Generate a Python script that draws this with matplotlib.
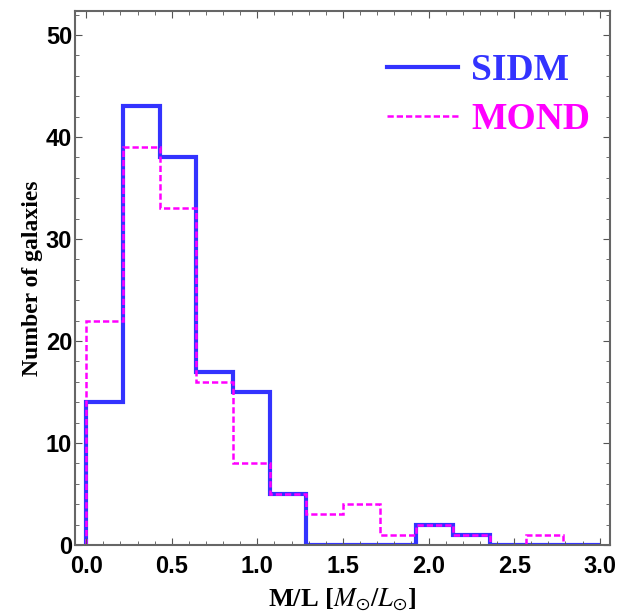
import numpy as np
import matplotlib
matplotlib.use("Agg")
from matplotlib import pyplot as plt
from matplotlib.ticker import MultipleLocator

plt.rcParams["mathtext.fontset"] = "stix"

# histogram bins in M/L and galaxy counts per bin
bin_edges = np.linspace(0.0, 3.0, 15)
sidm_counts = [14, 43, 38, 17, 15, 5, 0, 0, 0, 2, 1, 0, 0, 0]
mond_counts = [22, 39, 33, 16, 8, 5, 3, 4, 1, 2, 1, 0, 1, 0]

fig = plt.figure(figsize=(6.21, 6.15), dpi=100)
ax = fig.add_axes([0.1208, 0.1138, 0.8615, 0.8683])

ax.stairs(sidm_counts, bin_edges, color="#3333ff", lw=3.0, label="SIDM", baseline=0)
ax.stairs(mond_counts, bin_edges, color="#ff00ff", lw=1.8, ls=(0, (2.5, 1.2)),
          label="MOND", baseline=0)

ax.set_xlim(-0.065, 3.06)
ax.set_ylim(0, 52.35)
ax.xaxis.set_major_locator(MultipleLocator(0.5))
ax.xaxis.set_minor_locator(MultipleLocator(0.1))
ax.yaxis.set_major_locator(MultipleLocator(10))
ax.yaxis.set_minor_locator(MultipleLocator(2))
ax.tick_params(which="both", direction="in", top=True, right=True, color="#555555")
ax.tick_params(which="major", length=5, labelsize=17)
ax.tick_params(which="minor", length=3)
ax.tick_params(axis="y", pad=2)
ax.tick_params(axis="x", pad=7)
for lbl in ax.get_xticklabels() + ax.get_yticklabels():
    lbl.set_fontweight("bold")
    lbl.set_family("Liberation Sans")
for s in ax.spines.values():
    s.set_color("#666666")
    s.set_linewidth(1.5)

ax.set_xlabel(r"M/L [$M_{\odot}/L_{\odot}$]", family="Liberation Serif",
              fontweight="bold", fontsize=19, labelpad=6)
ax.set_ylabel("Number of galaxies", family="Liberation Serif",
              fontweight="bold", fontsize=17, labelpad=2)

leg = ax.legend(loc="upper right", frameon=False, handlelength=1.9,
                labelcolor="linecolor",
                prop={"family": "Liberation Serif", "weight": "bold", "size": 27},
                bbox_to_anchor=(1.026, 0.985), handletextpad=0.35, labelspacing=0.38)

fig.savefig("out.png", dpi=100)
